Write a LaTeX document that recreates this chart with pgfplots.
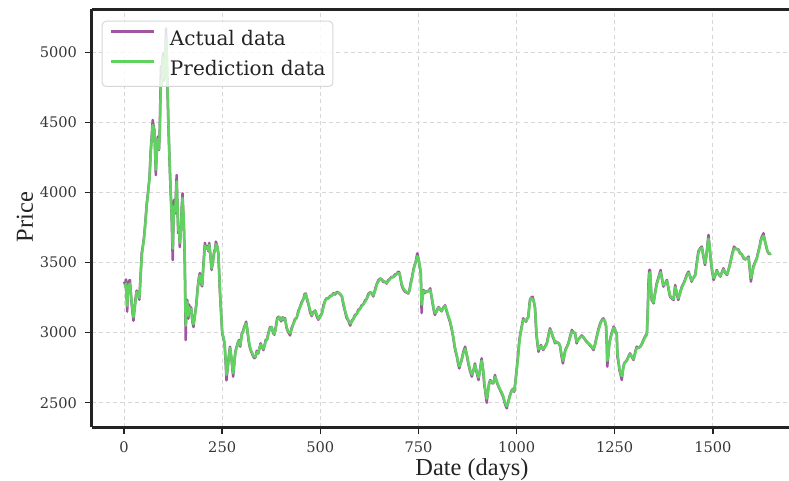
\documentclass[border=0pt]{standalone}
\usepackage{fontspec}
\setmainfont{DejaVu Serif}
\newfontfamily\labelfont{Liberation Serif}
\usepackage{pgfplots}
\pgfplotsset{compat=1.18}
\usepackage{pgfplotstable}
\definecolor{actcol}{RGB}{160,85,160}
\definecolor{predcol}{RGB}{95,210,95}
\definecolor{framecol}{RGB}{35,35,35}
\definecolor{tickcol}{RGB}{55,55,55}
\definecolor{gridcol}{RGB}{215,215,215}
\definecolor{legbord}{RGB}{215,215,215}
\definecolor{textcol}{RGB}{35,35,35}

\pgfplotstableread{
day act pred
0 3363 3330
3 3340 3330
5 3380 3350
8 3150 3190
10 3330 3300
13 3370 3340
15 3375 3350
18 3250 3260
21 3160 3180
24 3085 3110
27 3180 3170
30 3260 3240
32 3300 3290
35 3280 3280
39 3235 3250
42 3400 3380
45 3568 3540
48 3620 3610
51 3684 3670
54 3780 3770
58 3925 3910
61 4000 3990
65 4112 4100
68 4300 4280
71 4424 4410
73 4517 4480
75 4480 4470
77 4450 4440
79 4300 4320
81 4124 4160
83 4280 4260
86 4398 4380
89 4303 4310
91 4450 4430
94 4900 4800
96 4780 4760
98 4950 4900
100 4995 4960
102 4800 4820
104 4900 4880
107 5170 5100
109 4950 4960
111 4700 4720
113 4480 4500
115 4300 4320
117 4138 4150
119 3980 4000
121 3853 3870
124 3518 3600
127 3946 3900
130 3850 3860
132 3980 3960
134 4124 4080
136 3900 3920
138 3709 3730
140 3750 3740
142 3610 3640
145 3750 3740
147 3900 3880
149 3994 3960
151 3850 3870
153 3709 3720
155 3450 3480
157 2947 3050
159 3233 3200
161 3233 3220
164 3100 3120
166 3200 3180
168 3140 3150
171 3180 3170
174 3080 3090
177 3040 3060
179 3100 3090
181 3140 3130
184 3200 3190
187 3304 3290
190 3380 3370
193 3425 3410
196 3350 3360
199 3330 3340
202 3480 3460
206 3640 3620
209 3600 3600
212 3617 3610
215 3580 3585
217 3640 3625
220 3550 3560
223 3447 3460
226 3500 3490
229 3568 3560
232 3600 3590
234 3649 3630
237 3620 3620
240 3568 3570
242 3450 3460
244 3304 3320
247 3150 3160
250 2995 3010
253 2960 2970
256 2924 2930
259 2780 2800
261 2660 2700
263 2720 2730
266 2805 2790
268 2860 2850
270 2899 2890
272 2850 2855
274 2805 2810
276 2740 2750
278 2686 2710
280 2760 2750
283 2852 2840
285 2880 2875
287 2899 2895
290 2930 2925
293 2947 2940
296 2900 2910
300 2995 2985
303 3010 3005
306 3040 3030
309 3060 3055
311 3078 3065
314 3020 3030
317 2947 2960
320 2900 2910
323 2870 2875
326 2852 2860
329 2830 2835
332 2818 2830
335 2825 2825
338 2870 2860
342 2852 2855
345 2890 2885
348 2924 2915
351 2900 2905
355 2876 2885
358 2910 2905
361 2950 2940
364 2947 2950
367 2990 2980
370 3020 3015
372 3040 3030
376 3040 3040
380 2995 3005
383 2985 2990
386 3030 3020
390 3100 3090
393 3114 3105
396 3110 3110
400 3080 3090
404 3110 3105
407 3090 3095
410 3105 3100
414 3033 3045
418 3005 3010
423 2980 2995
427 3035 3020
431 3060 3060
435 3095 3085
440 3105 3110
444 3155 3145
448 3180 3180
452 3215 3205
457 3240 3240
460 3275 3265
463 3280 3275
466 3235 3250
470 3200 3205
474 3145 3160
478 3118 3125
482 3145 3135
487 3158 3155
491 3115 3130
495 3092 3100
499 3115 3105
504 3138 3135
508 3195 3180
512 3228 3225
516 3245 3240
521 3245 3250
525 3262 3255
529 3264 3265
534 3282 3275
538 3272 3280
542 3290 3283
546 3286 3285
551 3272 3275
555 3258 3260
559 3195 3210
563 3152 3160
567 3105 3120
572 3082 3085
576 3050 3065
580 3084 3075
584 3098 3095
588 3124 3115
593 3136 3135
597 3164 3155
601 3168 3170
605 3194 3185
610 3204 3205
614 3230 3220
618 3240 3240
622 3274 3265
627 3288 3285
631 3282 3282
635 3258 3265
640 3314 3300
644 3348 3345
648 3374 3365
652 3386 3382
656 3382 3380
661 3360 3368
665 3364 3360
669 3350 3355
673 3374 3365
678 3386 3385
682 3398 3393
686 3396 3398
690 3414 3405
695 3420 3418
698 3434 3425
701 3432 3425
704 3390 3400
707 3340 3350
711 3310 3320
716 3292 3298
720 3285 3288
724 3280 3285
727 3300 3295
730 3352 3340
734 3400 3390
737 3447 3440
740 3480 3475
743 3506 3500
747 3566 3545
750 3530 3530
752 3495 3500
754 3460 3465
756 3423 3430
758 3140 3200
760 3250 3240
763 3304 3295
767 3284 3290
771 3296 3290
775 3294 3298
780 3316 3305
783 3260 3270
786 3209 3220
789 3160 3170
792 3126 3140
796 3155 3145
801 3182 3178
805 3168 3172
809 3152 3155
813 3178 3170
818 3195 3190
822 3150 3160
826 3114 3120
830 3080 3090
835 3019 3030
839 2960 2970
842 2900 2910
845 2860 2870
848 2828 2835
851 2780 2790
854 2745 2760
857 2780 2775
860 2805 2800
864 2860 2850
869 2900 2885
873 2840 2850
877 2780 2790
881 2730 2740
886 2686 2700
890 2730 2725
894 2780 2770
898 2720 2730
903 2662 2680
907 2740 2730
911 2817 2800
915 2720 2735
918 2620 2640
920 2590 2600
922 2540 2560
924 2500 2530
927 2580 2570
930 2640 2630
933 2662 2655
937 2640 2645
941 2638 2640
945 2698 2685
949 2650 2660
954 2614 2620
958 2590 2595
962 2567 2575
966 2540 2548
969 2507 2515
972 2480 2490
975 2460 2475
978 2500 2495
982 2543 2535
985 2570 2565
988 2590 2585
991 2600 2595
994 2578 2585
997 2650 2640
1000 2733 2720
1004 2850 2830
1007 2947 2930
1010 3000 2990
1013 3043 3035
1017 3102 3090
1020 3090 3092
1024 3078 3082
1027 3100 3098
1030 3114 3110
1032 3180 3170
1034 3233 3220
1037 3250 3245
1041 3256 3240
1044 3220 3225
1047 3173 3180
1049 3060 3080
1051 2971 2990
1054 2900 2915
1056 2864 2880
1059 2890 2885
1062 2912 2905
1065 2890 2895
1068 2876 2882
1072 2900 2895
1077 2924 2918
1081 2980 2970
1085 3031 3020
1089 3000 3005
1092 2971 2978
1095 2950 2955
1098 2924 2930
1101 2936 2930
1104 2928 2932
1108 2922 2922
1111 2900 2905
1114 2840 2855
1118 2780 2800
1121 2830 2825
1124 2876 2868
1128 2900 2895
1132 2924 2920
1136 2970 2962
1141 3019 3008
1145 3000 3005
1149 2998 2995
1151 2960 2965
1153 2924 2935
1157 2952 2948
1162 2966 2968
1166 2980 2972
1170 2966 2970
1174 2952 2955
1179 2932 2938
1183 2924 2922
1187 2908 2915
1191 2898 2900
1196 2876 2885
1200 2920 2912
1204 2971 2962
1208 3020 3010
1213 3067 3058
1217 3090 3085
1221 3102 3095
1225 3080 3085
1228 3043 3050
1230 2900 2940
1231 2757 2800
1234 2850 2840
1236 2924 2910
1239 2960 2955
1242 2995 2990
1245 3020 3015
1247 3043 3035
1250 3030 3030
1253 2995 3000
1255 3000 2995
1257 2828 2850
1260 2780 2790
1262 2733 2745
1265 2700 2710
1268 2662 2690
1271 2740 2730
1274 2780 2775
1277 2790 2788
1281 2805 2800
1285 2830 2825
1289 2852 2845
1293 2830 2835
1298 2805 2812
1302 2860 2850
1306 2900 2890
1310 2890 2892
1315 2900 2898
1319 2920 2915
1323 2947 2940
1327 2970 2965
1332 2995 2985
1334 3150 3120
1336 3350 3300
1338 3447 3420
1340 3447 3430
1342 3330 3345
1344 3233 3250
1347 3220 3225
1349 3209 3215
1353 3290 3280
1357 3352 3340
1362 3400 3392
1367 3447 3430
1370 3390 3395
1374 3328 3338
1378 3350 3348
1383 3376 3368
1387 3310 3320
1391 3257 3265
1395 3245 3250
1400 3233 3240
1402 3290 3280
1404 3340 3325
1408 3280 3290
1412 3233 3245
1416 3280 3275
1421 3328 3320
1425 3350 3345
1429 3376 3370
1433 3410 3402
1438 3435 3425
1442 3400 3405
1446 3364 3372
1450 3390 3388
1455 3411 3405
1459 3500 3485
1463 3578 3565
1467 3600 3595
1472 3614 3605
1476 3540 3550
1480 3483 3495
1483 3540 3535
1485 3590 3580
1487 3650 3635
1489 3697 3670
1492 3600 3610
1495 3507 3520
1498 3440 3450
1502 3376 3390
1506 3410 3405
1510 3447 3440
1514 3420 3422
1519 3400 3405
1523 3430 3425
1527 3459 3450
1531 3430 3435
1536 3411 3415
1540 3450 3445
1544 3495 3488
1549 3560 3550
1554 3614 3600
1559 3596 3600
1565 3594 3590
1569 3566 3572
1574 3558 3555
1578 3532 3538
1582 3522 3522
1586 3528 3528
1591 3543 3535
1594 3450 3470
1597 3364 3390
1600 3420 3415
1603 3471 3460
1607 3500 3495
1612 3531 3525
1615 3570 3562
1619 3614 3605
1622 3660 3648
1625 3685 3675
1629 3709 3690
1632 3660 3665
1636 3614 3620
1639 3580 3585
1642 3566 3570
1645 3560 3562
1648 3566 3563
}\pricedata

\begin{document}
\begin{tikzpicture}
\begin{axis}[
  name=ax,
  scale only axis,
  width=348.65pt, height=209pt,
  xmin=-82.4, xmax=1694,
  ymin=2324, ymax=5306,
  axis x line*=box,
  axis y line*=left,
  axis line style={color=framecol, line width=1.2pt},
  xtick={0,250,500,750,1000,1250,1500},
  ytick={2500,3000,3500,4000,4500,5000},
  xtick pos=bottom, ytick pos=left,
  tick align=outside,
  major tick length=3.5pt,
  tick style={color=framecol, line width=0.7pt},
  grid=major,
  grid style={color=gridcol, line width=0.45pt, dash pattern=on 2pt off 1.6pt},
  /pgf/number format/assume math mode=true,
  /pgf/number format/1000 sep={},
  tick label style={font=\fontsize{7.3}{8.7}\selectfont, color=tickcol},
  xticklabel style={yshift=0pt},
  yticklabel style={xshift=-0.3pt},
  xlabel={Date (days)},
  ylabel={Price},
  xlabel style={at={(axis description cs:0.5454,0)}, anchor=base, yshift=-24.2pt,
    font=\labelfont\fontsize{12.2}{14}\selectfont, color=textcol},
  ylabel style={at={(axis description cs:-0.08418,0.503)}, anchor=base,
    font=\labelfont\fontsize{12.2}{14}\selectfont, color=textcol},
  legend cell align=left,
  legend image code/.code={\draw[#1, line width=1.25pt] (0pt,3.65pt) -- (21.5pt,3.65pt);},
  legend style={at={(axis description cs:0,1)}, anchor=north west,
    xshift=5pt, yshift=-5.65pt,
    draw=legbord, line width=0.5pt, rounded corners=2pt,
    fill=white, fill opacity=0.8, text opacity=1,
    font=\fontsize{10}{12}\selectfont, text=textcol,
    inner xsep=3.65pt, inner ysep=3.85pt,
    nodes={inner sep=0pt, text height=8.3pt, text depth=1.65pt},
    column sep=7.5pt, row sep=5.05pt},
]
\addplot[color=actcol, line width=1.25pt, line join=round] table[x=day, y=act] {\pricedata};
\addlegendentry{Actual data}
\addplot[color=predcol, line width=1.25pt, line join=round] table[x=day, y=pred] {\pricedata};
\addlegendentry{Prediction data}
\end{axis}
\pgfresetboundingbox
\useasboundingbox ([xshift=-45.85pt,yshift=-26.8pt]ax.south west) rectangle ([yshift=4.7pt]ax.north east);
\end{tikzpicture}
\end{document}
